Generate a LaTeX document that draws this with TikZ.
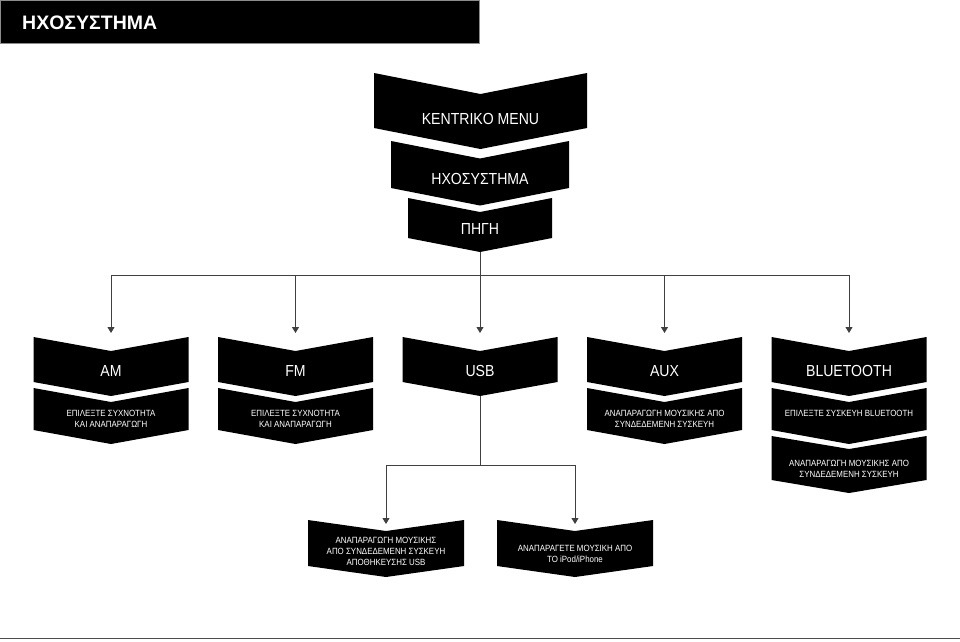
\documentclass[tikz,border=0pt]{standalone}
\usepackage{fontspec}
\setmainfont{Liberation Sans}[FakeStretch=0.88]
\newfontfamily\titlefont{Liberation Sans}
\usetikzlibrary{arrows.meta}
\tikzset{
  chev/.style={fill=black},
  lbl/.style={text=white, align=center, inner sep=0pt},
  big/.style={font=\fontsize{16}{18}\selectfont},
  small/.style={font=\fontsize{9}{11}\selectfont},
  conn/.style={draw=black!75, line width=0.9pt},
  arr/.style={conn, -{Triangle[length=6pt,width=7pt]}},
}
% #1 name, #2 label style, #3 cx, #4 top, #5 bottom, #6 half width, #7 depth, #8 text
\newcommand\mychev[8]{%
  \fill[chev] (#3-#6,#4) -- (#3,#4+#7) -- (#3+#6,#4) -- (#3+#6,#5) -- (#3,#5+#7) -- (#3-#6,#5) -- cycle;
  \coordinate (#1-n) at (#3,#4+#7);
  \coordinate (#1-t) at (#3,#5+#7);
  \node[lbl,#2] (#1) at (#3,{(#4+#5)/2+0.8*#7}) {#8};
}
\begin{document}
\begin{tikzpicture}[x=1pt,y=-1pt]
\useasboundingbox (0,0) rectangle (960,641);
% title bar
\filldraw[fill=black, draw=black!45, line width=0.8pt] (0,0.4) rectangle (479,43);
\node[anchor=base west, text=white, inner sep=0pt, font=\titlefont\bfseries\fontsize{19.5}{22}\selectfont] (title) at (22,29) {ΗΧΟΣΥΣΤΗΜΑ};
% bottom rule
\draw[black!70, line width=1.6pt] (0,638.6) -- (960,638.6);

% top stack
\mychev{menu}{big,yshift=-2pt}{480.5}{73}{128}{106.5}{21}{KENTRIKO MENU}
\mychev{sys}{big}{480}{141}{188}{89}{17.5}{ΗΧΟΣΥΣΤΗΜΑ}
\mychev{pigi}{big}{480}{198}{238}{72}{14}{ΠΗΓΗ}

% row 1
\mychev{am}{big}{111}{337}{382}{77.5}{14}{AM}
\mychev{fm}{big}{295.5}{337}{382}{77.5}{14}{FM}
\mychev{usb}{big}{480}{337}{382}{77.5}{14}{USB}
\mychev{aux}{big}{664.5}{337}{382}{77.5}{14}{AUX}
\mychev{bt}{big}{849}{337}{382}{77.5}{14}{BLUETOOTH}

% row 2
\mychev{am2}{small,yshift=1.5pt}{111}{388}{430}{77.5}{14}{ΕΠΙΛΕΞΤΕ ΣΥΧΝΟΤΗΤΑ\\ΚΑΙ ΑΝΑΠΑΡΑΓΩΓΗ}
\mychev{fm2}{small,yshift=1.5pt}{295.5}{388}{430}{77.5}{14}{ΕΠΙΛΕΞΤΕ ΣΥΧΝΟΤΗΤΑ\\ΚΑΙ ΑΝΑΠΑΡΑΓΩΓΗ}
\mychev{aux2}{small,yshift=1.5pt}{664.5}{388}{430}{77.5}{14}{ΑΝΑΠΑΡΑΓΩΓΗ ΜΟΥΣΙΚΗΣ ΑΠΟ\\ΣΥΝΔΕΔΕΜΕΝΗ ΣΥΣΚΕΥΗ}
\mychev{bt2}{small,yshift=7pt}{849}{388}{430}{77.5}{14}{ΕΠΙΛΕΞΤΕ ΣΥΣΚΕΥΗ BLUETOOTH}
\mychev{bt3}{small}{849}{436}{480}{77.5}{13}{ΑΝΑΠΑΡΑΓΩΓΗ ΜΟΥΣΙΚΗΣ ΑΠΟ\\ΣΥΝΔΕΔΕΜΕΝΗ ΣΥΣΚΕΥΗ}

% usb sub boxes
\mychev{sub1}{small}{386}{520}{566}{78}{11}{ΑΝΑΠΑΡΑΓΩΓΗ ΜΟΥΣΙΚΗΣ\\ΑΠΟ ΣΥΝΔΕΔΕΜΕΝΗ ΣΥΣΚΕΥΗ\\ΑΠΟΘΗΚΕΥΣΗΣ USB}
\mychev{sub2}{small,yshift=-2pt}{575}{520}{566}{78}{11}{ΑΝΑΠΑΡΑΓΕΤΕ ΜΟΥΣΙΚΗ ΑΠΟ\\ΤΟ iPod/iPhone}

% connectors
\coordinate (bus) at (480,275);
\draw[conn] (pigi-t) -- (bus);
\draw[conn] (am-n |- bus) -- (bt-n |- bus);
\foreach \n in {am,fm,usb,aux,bt}
  \draw[arr] (\n-n |- bus) -- ([yshift=18pt]\n-n);

\coordinate (ubus) at (480,465);
\draw[conn] (usb-t) -- (ubus);
\draw[conn] (sub1-n |- ubus) -- (sub2-n |- ubus);
\foreach \n in {sub1,sub2}
  \draw[arr] (\n-n |- ubus) -- ([yshift=7pt]\n-n);
\end{tikzpicture}
\end{document}
